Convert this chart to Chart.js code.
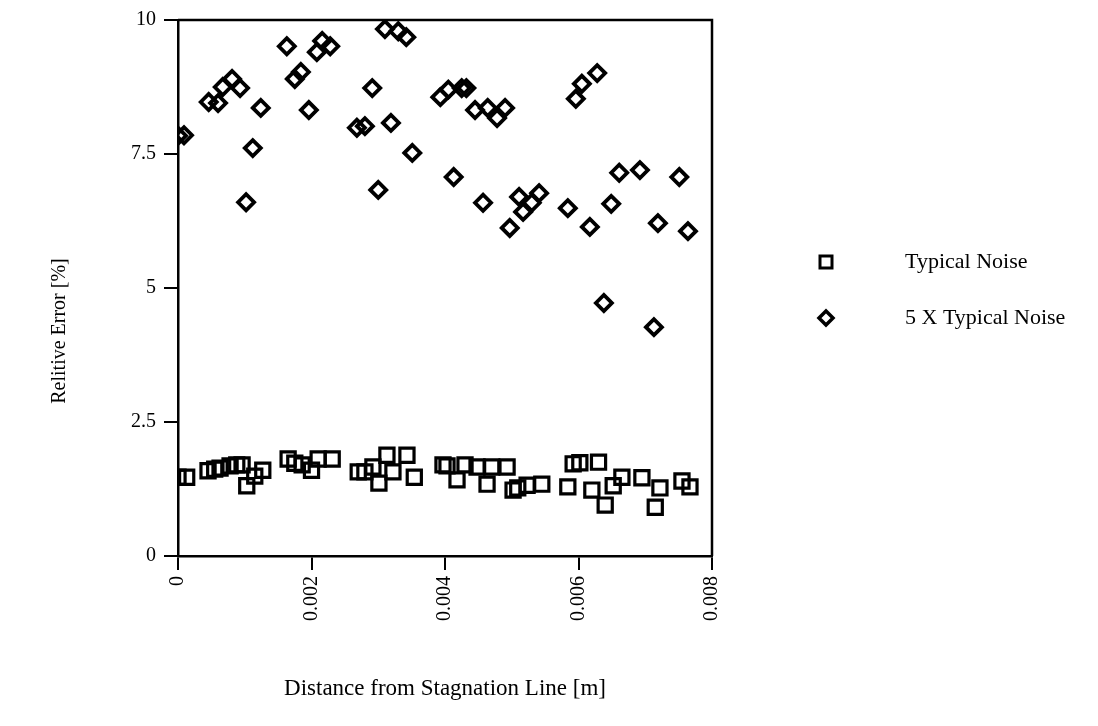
<!DOCTYPE html>
<html>
<head>
<meta charset="UTF-8"/>
<script src="https://cdn.jsdelivr.net/npm/chart.js"></script>
<style>
  html, body { margin: 0; padding: 0; background: #fff; }
  #wrap { width: 1098px; height: 726px; }
</style>
</head>
<body>
<div id="wrap"><canvas id="errChart" width="1098" height="726"></canvas></div>
<script>
// values
const seriesNames = ['Typical Noise', '5 X Typical Noise'];

const noiseX = [0.00000, 0.00013, 0.00045, 0.00055, 0.00063, 0.00078, 0.00088, 0.00096, 0.00103, 0.00115,
  0.00127, 0.00165, 0.00175, 0.00186, 0.00200, 0.00210, 0.00231, 0.00270, 0.00280, 0.00292,
  0.00301, 0.00313, 0.00322, 0.00343, 0.00354, 0.00397, 0.00403, 0.00418, 0.00430, 0.00448,
  0.00463, 0.00470, 0.00493, 0.00502, 0.00509, 0.00523, 0.00545, 0.00584, 0.00592, 0.00602,
  0.00620, 0.00630, 0.00640, 0.00652, 0.00665, 0.00695, 0.00715, 0.00722, 0.00755, 0.00767];
const noiseY = [1.47, 1.47, 1.59, 1.62, 1.64, 1.68, 1.70, 1.70, 1.31, 1.49,
  1.60, 1.81, 1.73, 1.70, 1.60, 1.81, 1.81, 1.57, 1.57, 1.66,
  1.36, 1.88, 1.57, 1.88, 1.47, 1.70, 1.68, 1.42, 1.70, 1.66,
  1.34, 1.66, 1.66, 1.23, 1.27, 1.32, 1.34, 1.29, 1.72, 1.74,
  1.23, 1.75, 0.95, 1.31, 1.47, 1.46, 0.91, 1.27, 1.40, 1.29];

const noise5X = [0.00000, 0.00009, 0.00046, 0.00060, 0.00067, 0.00081, 0.00093, 0.00124, 0.00112, 0.00102,
  0.00163, 0.00184, 0.00175, 0.00196, 0.00208, 0.00216, 0.00228, 0.00291, 0.00268, 0.00280,
  0.00319, 0.00351, 0.00300, 0.00310, 0.00330, 0.00342, 0.00393, 0.00405, 0.00425, 0.00432,
  0.00445, 0.00464, 0.00478, 0.00490, 0.00596, 0.00605, 0.00628, 0.00413, 0.00457, 0.00497,
  0.00511, 0.00517, 0.00530, 0.00541, 0.00584, 0.00617, 0.00649, 0.00661, 0.00692, 0.00751,
  0.00719, 0.00764, 0.00638, 0.00713];
const noise5Y = [7.84, 7.85, 8.47, 8.45, 8.75, 8.90, 8.73, 8.36, 7.61, 6.60,
  9.51, 9.03, 8.90, 8.32, 9.40, 9.61, 9.51, 8.73, 7.99, 8.02,
  8.08, 7.52, 6.83, 9.83, 9.79, 9.68, 8.56, 8.70, 8.73, 8.73,
  8.32, 8.36, 8.17, 8.36, 8.53, 8.81, 9.01, 7.07, 6.59, 6.12,
  6.70, 6.42, 6.59, 6.77, 6.49, 6.14, 6.57, 7.15, 7.20, 7.07,
  6.21, 6.06, 4.72, 4.27];

const xTickValues = [0, 0.002, 0.004, 0.006, 0.008];
const xTickLabels = ['0', '0.002', '0.004', '0.006', '0.008'];
const yTickValues = [0, 2.5, 5, 7.5, 10];
const yTickLabels = ['0', '2.5', '5', '7.5', '10'];

const yTitle = 'Relitive Error [%]';

const toPoints = (xs, ys) => xs.map((x, i) => ({ x: x, y: ys[i] }));

const serif = "'Liberation Serif', 'Times New Roman', serif";

// top/right frame, y title (sits a bit below centre in the original) and legend
const framePlugin = {
  id: 'frame',
  afterDraw(chart) {
    const { ctx, chartArea: a } = chart;
    ctx.save();
    ctx.strokeStyle = '#000';
    ctx.lineWidth = 2.5;
    ctx.beginPath();
    ctx.moveTo(a.left, a.top);
    ctx.lineTo(a.right, a.top);
    ctx.lineTo(a.right, a.bottom);
    ctx.stroke();

    ctx.fillStyle = '#000';
    ctx.save();
    ctx.translate(60, 331);
    ctx.rotate(-Math.PI / 2);
    ctx.font = '20px ' + serif;
    ctx.textAlign = 'center';
    ctx.textBaseline = 'middle';
    ctx.fillText(yTitle, 0, 0);
    ctx.restore();

    // legend
    const mx = 826, tx = 905, rows = [262, 318];
    ctx.lineWidth = 3;
    ctx.strokeRect(mx - 6, rows[0] - 6, 12, 12);
    ctx.beginPath();
    ctx.moveTo(mx, rows[1] - 7);
    ctx.lineTo(mx + 7, rows[1]);
    ctx.lineTo(mx, rows[1] + 7);
    ctx.lineTo(mx - 7, rows[1]);
    ctx.closePath();
    ctx.lineWidth = 3.5;
    ctx.stroke();
    ctx.font = '22px ' + serif;
    ctx.textBaseline = 'middle';
    ctx.textAlign = 'left';
    seriesNames.forEach((n, i) => ctx.fillText(n, tx, rows[i]));
    ctx.restore();
  }
};

new Chart(document.getElementById('errChart'), {
  type: 'scatter',
  data: {
    datasets: [
      {
        label: seriesNames[0],
        data: toPoints(noiseX, noiseY),
        pointStyle: 'rect',
        pointRadius: 10,
        pointBorderWidth: 3.2,
        borderColor: '#000',
        backgroundColor: 'rgba(0,0,0,0)'
      },
      {
        label: seriesNames[1],
        data: toPoints(noise5X, noise5Y),
        pointStyle: 'rectRot',
        pointRadius: 8,
        pointBorderWidth: 3.8,
        borderColor: '#000',
        backgroundColor: 'rgba(0,0,0,0)'
      }
    ]
  },
  options: {
    responsive: false,
    animation: false,
    layout: { padding: { left: 0, top: 20, right: 386, bottom: 0 } },
    plugins: { legend: { display: false }, tooltip: { enabled: false } },
    scales: {
      x: {
        type: 'linear',
        min: 0,
        max: 0.008,
        afterFit: s => { s.height = 170; },
        afterBuildTicks: s => { s.ticks = xTickValues.map(v => ({ value: v })); },
        ticks: {
          color: '#000',
          font: { family: serif, size: 20 },
          minRotation: 90,
          maxRotation: 90,
          padding: 6,
          callback: (v, i) => xTickLabels[i]
        },
        grid: { drawOnChartArea: false, drawTicks: true, tickLength: 14, color: '#000', lineWidth: 2 },
        border: { display: true, color: '#000', width: 2.5 },
        title: {
          display: true,
          text: 'Distance from Stagnation Line [m]',
          color: '#000',
          font: { family: serif, size: 23 },
          padding: { top: 0, bottom: 23 }
        }
      },
      y: {
        type: 'linear',
        min: 0,
        max: 10,
        afterFit: s => { s.width = 178; },
        afterBuildTicks: s => { s.ticks = yTickValues.map(v => ({ value: v })); },
        ticks: {
          color: '#000',
          font: { family: serif, size: 20 },
          padding: 8,
          callback: (v, i) => yTickLabels[i]
        },
        grid: { drawOnChartArea: false, drawTicks: true, tickLength: 14, color: '#000', lineWidth: 2 },
        border: { display: true, color: '#000', width: 2.5 }
      }
    }
  },
  plugins: [framePlugin]
});
</script>
</body>
</html>
